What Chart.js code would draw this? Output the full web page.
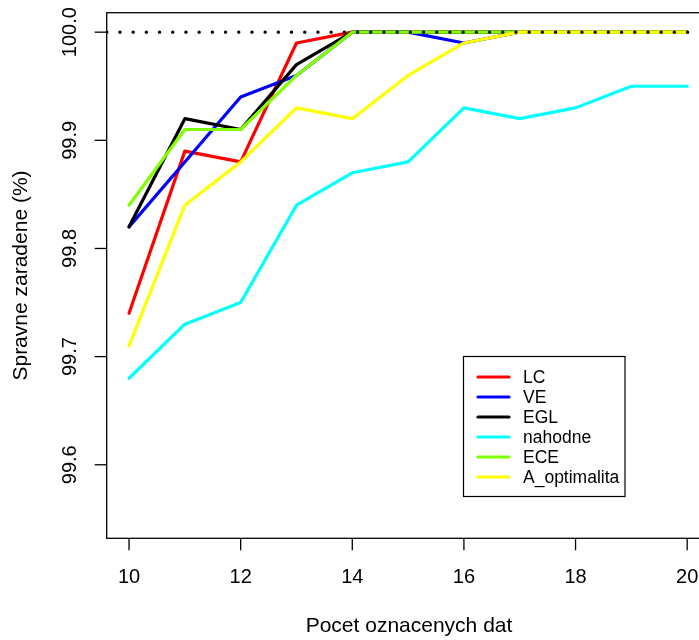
<!DOCTYPE html>
<html>
<head>
<meta charset="utf-8">
<script src="https://cdn.jsdelivr.net/npm/chart.js@4.4.1/dist/chart.umd.min.js"></script>
<style>
  html, body { margin: 0; padding: 0; background: #fff; overflow: hidden; }
  #wrap { width: 712px; height: 640px; }
</style>
</head>
<body>
<div id="wrap"><canvas id="accChart"></canvas></div>
<script>
// number of labelled samples
const pocet = [10, 11, 12, 13, 14, 15, 16, 17, 18, 19, 20];

// accuracy (%) per query strategy
const lc       = [99.74, 99.89, 99.88, 99.99, 100, 100, 100, 100, 100, 100, 100];
const ve       = [99.82, 99.88, 99.94, 99.96, 100, 100, 99.99, 100, 100, 100, 100];
const egl      = [99.82, 99.92, 99.91, 99.97, 100, 100, 100, 100, 100, 100, 100];
const nahodne  = [99.68, 99.73, 99.75, 99.84, 99.87, 99.88, 99.93, 99.92, 99.93, 99.95, 99.95];
const ece      = [99.84, 99.91, 99.91, 99.96, 100, 100, 100, 100, 100, 100, 100];
const aOpt     = [99.71, 99.84, 99.88, 99.93, 99.92, 99.96, 99.99, 100, 100, 100, 100];

const seriesNames  = ['LC', 'VE', 'EGL', 'nahodne', 'ECE', 'A_optimalita'];
const seriesColors = ['#ff0000', '#0000ff', '#000000', '#00ffff', '#7fff00', '#ffff00'];
const seriesData   = [lc, ve, egl, nahodne, ece, aOpt];

const xTicks = [10, 12, 14, 16, 18, 20];
const yTicks = [99.6, 99.7, 99.8, 99.9, 100.0];
const xLim = [10, 20];
const yLim = [99.55, 100];
const hranica = 100;

const FAMILY = '"Liberation Sans", Arial, sans-serif';
const TICK_FONT = '20px ' + FAMILY;
const TITLE_FONT = '21px ' + FAMILY;
const LEGEND_FONT = '17.5px ' + FAMILY;

// R-like 4% axis extension
const xPad = (xLim[1] - xLim[0]) * 0.04;
const yPad = (yLim[1] - yLim[0]) * 0.04;

const datasets = seriesData.map((vals, i) => ({
  label: seriesNames[i],
  data: vals.map((v, j) => ({ x: pocet[j], y: v })),
  borderColor: seriesColors[i],
  borderWidth: 3.2,
  borderCapStyle: 'round',
  borderJoinStyle: 'round',
  pointRadius: 0,
  tension: 0,
  order: seriesData.length - i + 1
}));

// dotted reference line across the whole plot
datasets.push({
  label: 'hranica',
  data: [{ x: xLim[0] - xPad, y: hranica }, { x: xLim[1] + xPad, y: hranica }],
  borderColor: '#000',
  borderWidth: 3.3,
  borderDash: [0.1, 13.1],
  borderCapStyle: 'round',
  pointRadius: 0,
  order: 0
});

const rAxes = {
  id: 'rAxes',
  beforeDatasetsDraw(chart) {
    const { ctx, chartArea: a, scales: { x, y } } = chart;
    ctx.save();
    ctx.strokeStyle = '#000';
    ctx.lineWidth = 1.3;
    ctx.strokeRect(a.left, a.top, a.right - a.left, a.bottom - a.top);

    ctx.fillStyle = '#000';
    ctx.textAlign = 'center';
    ctx.textBaseline = 'middle';

    // x axis
    ctx.font = TICK_FONT;
    xTicks.forEach(t => {
      const px = x.getPixelForValue(t);
      ctx.beginPath();
      ctx.moveTo(px, a.bottom);
      ctx.lineTo(px, a.bottom + 12);
      ctx.stroke();
      ctx.fillText(String(t), px, 577);
    });

    // y axis, labels parallel to the axis
    yTicks.forEach(t => {
      const py = y.getPixelForValue(t);
      ctx.beginPath();
      ctx.moveTo(a.left, py);
      ctx.lineTo(a.left - 12, py);
      ctx.stroke();
      ctx.save();
      ctx.translate(70, py);
      ctx.rotate(-Math.PI / 2);
      ctx.fillText(t.toFixed(1), 0, 0);
      ctx.restore();
    });

    ctx.font = TITLE_FONT;
    ctx.fillText('Pocet oznacenych dat', 409, 626);
    ctx.save();
    ctx.translate(21, (a.top + a.bottom) / 2);
    ctx.rotate(-Math.PI / 2);
    ctx.fillText('Spravne zaradene (%)', 0, 0);
    ctx.restore();
    ctx.restore();
  },
  afterDraw(chart) {
    const { ctx } = chart;
    const box = { left: 463.5, top: 356.5, width: 161.5, height: 140 };
    ctx.save();
    ctx.fillStyle = '#fff';
    ctx.fillRect(box.left, box.top, box.width, box.height);
    ctx.strokeStyle = '#000';
    ctx.lineWidth = 1.2;
    ctx.strokeRect(box.left, box.top, box.width, box.height);
    ctx.font = LEGEND_FONT;
    ctx.textAlign = 'left';
    ctx.textBaseline = 'middle';
    seriesNames.forEach((name, i) => {
      const ry = 377 + i * 20;
      ctx.strokeStyle = seriesColors[i];
      ctx.lineWidth = 3.2;
      ctx.lineCap = 'round';
      ctx.beginPath();
      ctx.moveTo(478, ry);
      ctx.lineTo(509, ry);
      ctx.stroke();
      ctx.fillStyle = '#000';
      ctx.fillText(name, 523, ry + 1);
    });
    ctx.restore();
  }
};

new Chart(document.getElementById('accChart'), {
  type: 'line',
  data: { datasets },
  options: {
    responsive: true,
    maintainAspectRatio: false,
    animation: false,
    devicePixelRatio: 1,
    layout: { padding: { left: 106.7, top: 12.7, right: 2.5, bottom: 101.7 } },
    plugins: { legend: { display: false }, tooltip: { enabled: false } },
    scales: {
      x: { type: 'linear', display: false, min: xLim[0] - xPad, max: xLim[1] + xPad },
      y: { type: 'linear', display: false, min: yLim[0] - yPad, max: yLim[1] + yPad }
    }
  },
  plugins: [rAxes]
});
</script>
</body>
</html>
